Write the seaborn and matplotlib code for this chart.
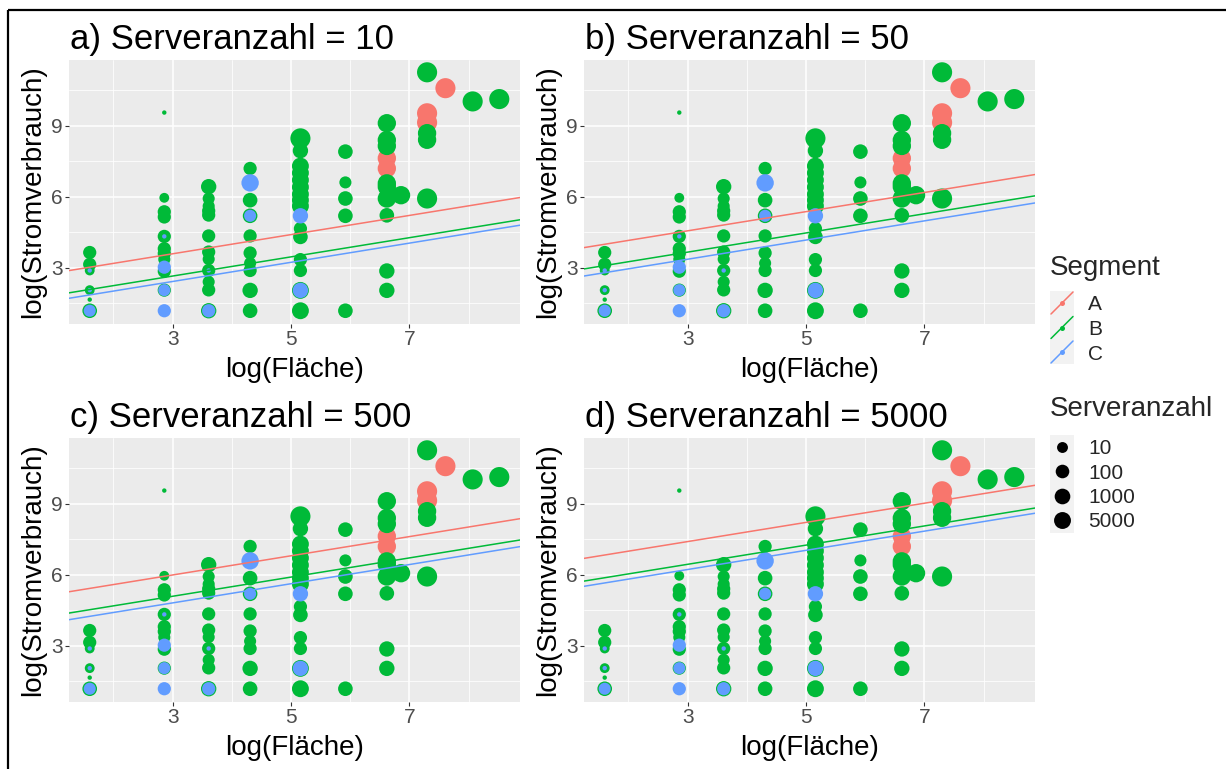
import numpy as np
import pandas as pd
import matplotlib
matplotlib.use("Agg")
import matplotlib.pyplot as plt
from matplotlib.patches import Rectangle
import seaborn as sns

# ---------------- data ----------------
seg_A_x = [6.62, 6.62, 7.30, 7.30, 7.61]
seg_A_y = [7.62, 7.19, 9.52, 9.13, 10.58]
seg_A_srv = [40000, 40000, 700000, 700000, 700000]

seg_B_x = [1.60, 1.60, 1.60, 1.60, 1.60, 1.60,
           2.86, 2.86, 2.86, 2.86, 2.86, 2.86, 2.86, 2.86, 2.86, 2.86,
           3.61, 3.61, 3.61, 3.61, 3.61, 3.61, 3.61, 3.61, 3.61, 3.61, 3.61, 3.61,
           4.31, 4.31, 4.31, 4.31, 4.31, 4.31, 4.31, 4.31, 4.31,
           5.16, 5.16, 5.16, 5.16, 5.16, 5.16, 5.16, 5.16, 5.16, 5.16, 5.16, 5.16, 5.16, 5.16, 5.16,
           5.92, 5.92, 5.92, 5.92, 5.92,
           6.62, 6.62, 6.62, 6.62, 6.62, 6.62, 6.62, 6.62, 6.62,
           6.86,
           7.30, 7.30, 7.30, 7.30,
           8.07, 8.52]
seg_B_y = [3.64, 3.14, 2.88, 2.05, 1.65, 1.18,
           9.55, 5.95, 5.36, 5.14, 4.32, 3.80, 3.60, 3.35, 2.85, 2.05,
           6.42, 5.92, 5.60, 5.40, 5.22, 4.34, 3.66, 3.36, 2.88, 2.40, 2.06, 1.18,
           7.19, 5.85, 5.19, 4.34, 3.62, 3.19, 2.88, 2.04, 1.18,
           8.46, 7.94, 7.29, 7.00, 6.70, 6.40, 6.10, 5.85, 5.60, 4.65, 4.30, 3.34, 2.88, 2.04, 1.18,
           7.90, 6.60, 5.92, 5.19, 1.18,
           9.10, 8.39, 8.14, 6.56, 6.42, 5.92, 5.21, 2.86, 2.04,
           6.06,
           11.25, 8.68, 8.40, 5.92,
           10.02, 10.12]
seg_B_srv = [70, 70, 5, 5, 1, 300,
             1, 5, 70, 70, 70, 70, 70, 25, 70, 70,
             700, 25, 25, 70, 70, 70, 70, 25, 70, 25, 70, 700,
             70, 300, 300, 70, 70, 25, 70, 700, 300,
             700000, 700, 5000, 5000, 5000, 5000, 5000, 5000, 5000, 70, 300, 70, 70, 5000, 5000,
             300, 25, 300, 300, 300,
             40000, 40000, 40000, 40000, 40000, 40000, 300, 700, 700,
             40000,
             700000, 40000, 40000, 700000,
             700000, 700000]

seg_C_x = [1.60, 1.60, 1.60, 2.86, 2.86, 2.86, 2.86, 3.61, 3.61, 4.31, 4.31, 5.16, 5.16]
seg_C_y = [2.88, 2.05, 1.18, 4.32, 3.02, 2.05, 1.18, 2.88, 1.18, 6.58, 5.19, 5.19, 2.04]
seg_C_srv = [1, 1, 25, 1, 70, 25, 70, 1, 70, 10000, 25, 700, 700]

segment_levels = ["A", "B", "C"]
segment_colors = ["#F8766D", "#00BA38", "#619CFF"]

panel_titles = ["a) Serveranzahl = 10", "b) Serveranzahl = 50",
                "c) Serveranzahl = 500", "d) Serveranzahl = 5000"]
# fitted lines per panel (intercept at log(Fläche)=0) and common slope
line_intercepts_A = [2.37, 3.34, 4.77, 6.18]
line_intercepts_B = [1.43, 2.44, 3.87, 5.22]
line_intercepts_C = [1.20, 2.14, 3.59, 5.00]
line_slope = 0.405

x_ticks = [3, 5, 7]
x_minor = [2, 4, 6, 8]
y_ticks = [3, 6, 9]
y_minor = [1.5, 4.5, 7.5, 10.5]
size_breaks = [10, 100, 1000, 5000]

x_label = "log(Fläche)"
y_label = "log(Stromverbrauch)"

# ---------------- build frame ----------------
df = pd.DataFrame({
    "Flaeche": seg_A_x + seg_B_x + seg_C_x,
    "Strom": seg_A_y + seg_B_y + seg_C_y,
    "Serveranzahl": seg_A_srv + seg_B_srv + seg_C_srv,
    "Segment": ["A"] * len(seg_A_x) + ["B"] * len(seg_B_x) + ["C"] * len(seg_C_x),
})

W, H, DPI = 1226, 769, 100


def marker_area(servers):
    d_px = 1.1 * (4 + 16.5 * np.sqrt(np.log10(np.asarray(servers, float)) / 7.8))
    return (d_px * 72 / DPI) ** 2


df["area"] = marker_area(df["Serveranzahl"])
amin, amax = df["area"].min(), df["area"].max()

sns.set_style("darkgrid", {"axes.facecolor": "#EBEBEB", "grid.color": "white"})
plt.rcParams["font.family"] = ["Liberation Sans", "DejaVu Sans"]

fig = plt.figure(figsize=(W / DPI, H / DPI), dpi=DPI)
fig.patch.set_facecolor("white")


def fbox(l, t, r, b):
    return [l / W, 1 - b / H, (r - l) / W, (b - t) / H]


panels = [(69, 60, 520, 324), (584, 60, 1035, 324),
          (69, 438, 520, 702), (584, 438, 1035, 702)]
xlim = (1.25, 8.87)
ylim = (0.62, 11.77)
palette = dict(zip(segment_levels, segment_colors))
intercepts = [line_intercepts_A, line_intercepts_B, line_intercepts_C]

for i, (l, t, r, b) in enumerate(panels):
    ax = fig.add_axes(fbox(l, t, r, b))
    ax.set_axisbelow(True)
    sns.scatterplot(data=df, x="Flaeche", y="Strom", hue="Segment",
                    hue_order=segment_levels, palette=palette,
                    size="area", sizes=(amin, amax), size_norm=(amin, amax),
                    linewidth=0, legend=False, ax=ax, zorder=2)
    xs = np.array(xlim)
    for s_idx, seg in enumerate(segment_levels):
        sns.lineplot(x=xs, y=intercepts[s_idx][i] + line_slope * xs,
                     color=segment_colors[s_idx], linewidth=1.1, ax=ax, zorder=3)
    ax.set_xlim(*xlim)
    ax.set_ylim(*ylim)
    ax.set_xticks(x_ticks)
    ax.set_yticks(y_ticks)
    ax.set_xticks(x_minor, minor=True)
    ax.set_yticks(y_minor, minor=True)
    ax.grid(which="major", color="white", linewidth=1.1)
    ax.grid(which="minor", color="white", linewidth=0.55)
    ax.tick_params(which="major", length=2.8, width=0.8, color="#333333",
                   labelcolor="#4D4D4D", labelsize=15, pad=1.5,
                   bottom=True, left=True)
    ax.tick_params(which="minor", length=0)
    ax.set_xticklabels([str(v) for v in x_ticks])
    ax.set_yticklabels([str(v) for v in y_ticks])
    for sp in ax.spines.values():
        sp.set_visible(False)
    ax.set_xlabel("")
    ax.set_ylabel("")
    # titles and axis labels
    fig.text((l + 1) / W, 1 - (t - 11) / H, panel_titles[i], fontsize=25,
             ha="left", va="baseline", color="black")
    fig.text(((l + r) / 2) / W, 1 - (b + 53) / H, x_label, fontsize=20,
             ha="center", va="baseline", color="black")
    fig.text((l - 28.5) / W, 1 - ((t + b) / 2) / H, y_label, fontsize=20,
             rotation=90, rotation_mode="anchor", ha="center", va="baseline",
             color="black")

# ---------------- legends + frame (overlay in pixel coordinates) ----------------
lg = fig.add_axes([0, 0, 1, 1], zorder=10)
lg.set_xlim(0, W)
lg.set_ylim(H, 0)
lg.axis("off")
lg.patch.set_alpha(0)

# frame lines
lg.plot([8, 8], [10, H], color="black", lw=1.6, solid_capstyle="butt")
lg.plot([8, W], [10, 10], color="black", lw=1.6, solid_capstyle="butt")

kx0, kx1 = 1050, 1074
lg.text(kx0, 275, "Segment", fontsize=20, ha="left", va="baseline")
lg.add_patch(Rectangle((kx0, 291), kx1 - kx0, 73, color="#F2F2F2", lw=0))
for j, (seg, col) in enumerate(zip(segment_levels, segment_colors)):
    cy = 303 + 24.5 * j
    lg.plot([kx0 + 1, kx1 - 1], [cy + 11, cy - 11], color=col, lw=1.1)
    lg.scatter([(kx0 + kx1) / 2], [cy], s=(5 * 72 / DPI) ** 2, color=col, lw=0)
    lg.text(1088, cy, seg, fontsize=15, ha="left", va="center_baseline")

lg.text(kx0, 416, "Serveranzahl", fontsize=20, ha="left", va="baseline")
lg.add_patch(Rectangle((kx0, 435), kx1 - kx0, 98, color="#F2F2F2", lw=0))
for j, sb in enumerate(size_breaks):
    cy = 447 + 24.3 * j
    lg.scatter([1062], [cy], s=marker_area([sb]), color="black", lw=0)
    lg.text(1088, cy, str(sb), fontsize=15, ha="left", va="center_baseline")

fig.savefig("out.png", dpi=DPI)
